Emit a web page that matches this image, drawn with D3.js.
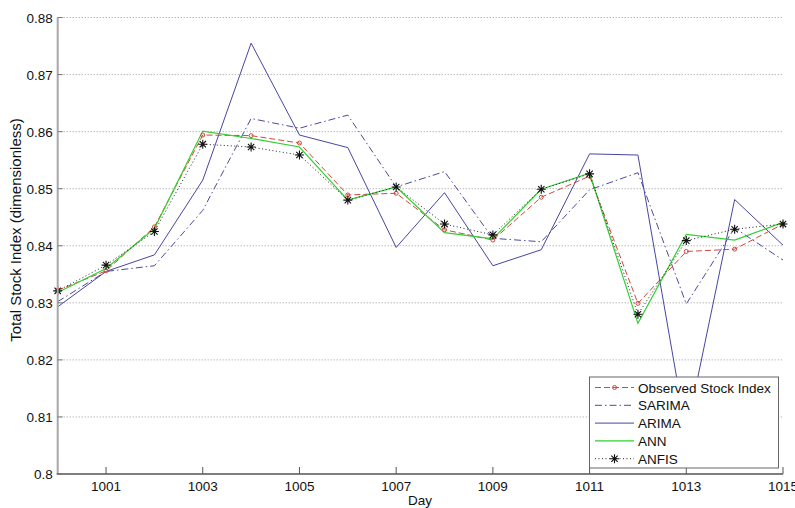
<!DOCTYPE html>
<html>
<head>
<meta charset="utf-8">
<script src="https://cdn.jsdelivr.net/npm/d3@7"></script>
<style>
  body { margin: 0; background: #fff; }
  svg { font-family: "Liberation Sans", Arial, sans-serif; }
</style>
</head>
<body>
<div id="chart"></div>
<script>
// days on the x axis
const days = d3.range(1000, 1016);

// series
const observed = [0.8322, 0.8356, 0.8433, 0.8594, 0.8593, 0.8580, 0.8489, 0.8492, 0.8428, 0.8410, 0.8485, 0.8522, 0.8299, 0.8390, 0.8394, 0.8438];
const sarima   = [0.8302, 0.8355, 0.8365, 0.8462, 0.8623, 0.8606, 0.8629, 0.8503, 0.8530, 0.8413, 0.8407, 0.8498, 0.8528, 0.8298, 0.8431, 0.8375];
const arima    = [0.8293, 0.8355, 0.8384, 0.8515, 0.8755, 0.8594, 0.8572, 0.8397, 0.8493, 0.8365, 0.8393, 0.8561, 0.8559, 0.8072, 0.8481, 0.8401];
const ann      = [0.8318, 0.8360, 0.8430, 0.8601, 0.8588, 0.8573, 0.8480, 0.8503, 0.8423, 0.8412, 0.8499, 0.8527, 0.8264, 0.8420, 0.8410, 0.8441];
const anfis    = [0.8321, 0.8366, 0.8425, 0.8578, 0.8573, 0.8559, 0.8480, 0.8503, 0.8438, 0.8419, 0.8499, 0.8526, 0.8280, 0.8409, 0.8429, 0.8438];

const xTicks = [1001, 1003, 1005, 1007, 1009, 1011, 1013, 1015];
const yTicks = [0.8, 0.81, 0.82, 0.83, 0.84, 0.85, 0.86, 0.87, 0.88];

const seriesNames = ["Observed Stock Index", "SARIMA", "ARIMA", "ANN", "ANFIS"];

const width = 795, height = 508;
const mLeft = 57.7, mRight = 783, mTop = 17.5, mBottom = 474;

const svg = d3.select("#chart").append("svg")
    .attr("width", width)
    .attr("height", height);

const x = d3.scaleLinear().domain([1000, 1015]).range([mLeft, mRight]);
const y = d3.scaleLinear().domain([0.8, 0.88]).range([mBottom, mTop]);

// grid
svg.append("g").selectAll("line")
    .data(yTicks.slice(1))
    .enter().append("line")
    .attr("x1", mLeft).attr("x2", mRight)
    .attr("y1", d => y(d)).attr("y2", d => y(d))
    .attr("stroke", "#9a9a9a")
    .attr("stroke-width", 1)
    .attr("stroke-dasharray", "1,2");

const series = [
    {name: seriesNames[0], vals: observed, color: "#d2473f", dash: "6,3", width: 1},
    {name: seriesNames[1], vals: sarima, color: "#4a4a9e", dash: "7,3,1.5,3", width: 1},
    {name: seriesNames[2], vals: arima, color: "#4646a0", dash: null, width: 1},
    {name: seriesNames[3], vals: ann, color: "#2fd02f", dash: null, width: 1.2},
    {name: seriesNames[4], vals: anfis, color: "#222222", dash: "1,2.5", width: 1}
];

const line = d3.line()
    .x((d, i) => x(days[i]))
    .y(d => y(d));

const plot = svg.append("g");

// draw order: ARIMA, SARIMA, observed, ANN, ANFIS
[2, 1, 0, 3, 4].forEach(k => {
    let s = series[k];
    plot.append("path")
        .datum(s.vals)
        .attr("d", line)
        .attr("fill", "none")
        .attr("stroke", s.color)
        .attr("stroke-width", s.width)
        .attr("stroke-dasharray", s.dash);
});

// observed markers (small circles)
plot.selectAll("circle.obs")
    .data(observed)
    .enter().append("circle")
    .attr("class", "obs")
    .attr("cx", (d, i) => x(days[i]))
    .attr("cy", d => y(d))
    .attr("r", 2)
    .attr("fill", "none")
    .attr("stroke", "#d2473f")
    .attr("stroke-width", 1);

function asterisk(g, cx, cy, r) {
    let p = "";
    [0, 45, 90, 135].forEach(a => {
        let rad = a * Math.PI / 180;
        let dx = Math.cos(rad) * r, dy = Math.sin(rad) * r;
        p += "M" + (cx - dx) + "," + (cy - dy) + "L" + (cx + dx) + "," + (cy + dy);
    });
    g.append("path").attr("d", p)
        .attr("stroke", "#111").attr("stroke-width", 1.1).attr("fill", "none");
}

anfis.forEach((d, i) => asterisk(plot, x(days[i]), y(d), 4.5));

// axes
svg.append("line")
    .attr("x1", mLeft).attr("x2", mLeft)
    .attr("y1", mTop).attr("y2", mBottom)
    .attr("stroke", "#a8a8a8").attr("stroke-width", 2);
svg.append("line")
    .attr("x1", mLeft - 1).attr("x2", mRight)
    .attr("y1", mBottom).attr("y2", mBottom)
    .attr("stroke", "#555").attr("stroke-width", 1.5);

// x ticks (inward)
svg.append("g").selectAll("line")
    .data(xTicks)
    .enter().append("line")
    .attr("x1", d => x(d)).attr("x2", d => x(d))
    .attr("y1", mBottom).attr("y2", mBottom - 7)
    .attr("stroke", "#555");

svg.append("g").selectAll("text")
    .data(xTicks)
    .enter().append("text")
    .attr("x", d => x(d))
    .attr("y", mBottom + 17)
    .attr("text-anchor", "middle")
    .attr("font-size", 13.5)
    .attr("fill", "#111")
    .text(d => d);

// y ticks
svg.append("g").selectAll("line")
    .data(yTicks)
    .enter().append("line")
    .attr("x1", mLeft).attr("x2", mLeft + 5)
    .attr("y1", d => y(d)).attr("y2", d => y(d))
    .attr("stroke", "#777");

svg.append("g").selectAll("text")
    .data(yTicks)
    .enter().append("text")
    .attr("x", mLeft - 5)
    .attr("y", d => y(d) + 5)
    .attr("text-anchor", "end")
    .attr("font-size", 13.5)
    .attr("fill", "#111")
    .text(d => String(+d.toFixed(2)));

// axis titles
svg.append("text")
    .attr("x", 420)
    .attr("y", 505)
    .attr("text-anchor", "middle")
    .attr("font-size", 13.5)
    .attr("fill", "#111")
    .text("Day");

svg.append("text")
    .attr("transform", "translate(21,230) rotate(-90)")
    .attr("text-anchor", "middle")
    .attr("font-size", 15)
    .attr("fill", "#111")
    .text("Total Stock Index (dimensionless)");

// legend
const lg = svg.append("g");
lg.append("rect")
    .attr("x", 589.5).attr("y", 377)
    .attr("width", 189).attr("height", 91)
    .attr("fill", "#fff")
    .attr("stroke", "#666").attr("stroke-width", 1);

series.forEach((s, i) => {
    let ly = 387.5 + i * 17.8;
    lg.append("line")
        .attr("x1", 595).attr("x2", 634)
        .attr("y1", ly).attr("y2", ly)
        .attr("stroke", s.color)
        .attr("stroke-width", s.width)
        .attr("stroke-dasharray", s.dash);
    if (i === 0) {
        lg.append("circle").attr("cx", 614.5).attr("cy", ly).attr("r", 2)
            .attr("fill", "none").attr("stroke", s.color);
    }
    if (i === 4) asterisk(lg, 614.5, ly, 4.5);
    lg.append("text")
        .attr("x", 638).attr("y", ly + 5)
        .attr("font-size", 13.5)
        .attr("fill", "#111")
        .text(s.name);
});
</script>
</body>
</html>
